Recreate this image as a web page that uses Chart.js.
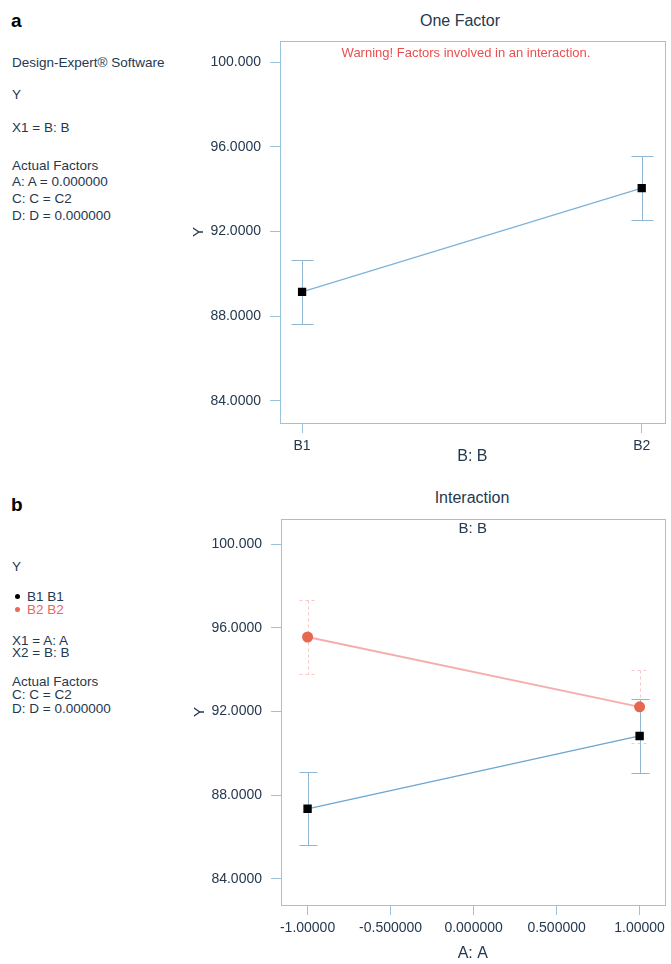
<!DOCTYPE html>
<html>
<head>
<meta charset="utf-8">
<script src="https://cdn.jsdelivr.net/npm/chart.js@4.4.1/dist/chart.umd.min.js"></script>
<style>
  body { margin: 0; background: #fff; }
  #page { position: relative; width: 671px; height: 964px; overflow: hidden; font-family: "Liberation Sans", Arial, sans-serif; color: #24384f; }
  .t { position: absolute; white-space: nowrap; font-size: 13.5px; line-height: 14px; }
  .panel { position: absolute; font-weight: bold; font-size: 19px; color: #000; }
  .ttl { position: absolute; font-size: 16px; line-height: 18px; text-align: center; }
  .dot { display: inline-block; width: 5px; height: 5px; border-radius: 3px; margin-right: 7px; vertical-align: 2px; }
  canvas { position: absolute; left: 0; }
</style>
</head>
<body>
<div id="page">
  <div class="panel" style="left:11px; top:10px;">a</div>
  <div class="t" style="left:12px; top:56px;">Design-Expert® Software</div>
  <div class="t" style="left:12px; top:88px;">Y</div>
  <div class="t" style="left:12px; top:121px;">X1 = B: B</div>
  <div class="t" style="left:12px; top:159px;">Actual Factors</div>
  <div class="t" style="left:12px; top:175px;">A: A = 0.000000</div>
  <div class="t" style="left:12px; top:192px;">C: C = C2</div>
  <div class="t" style="left:12px; top:209px;">D: D = 0.000000</div>

  <div class="panel" style="left:11px; top:494px;">b</div>
  <div class="t" style="left:12px; top:560px;">Y</div>
  <div class="t" style="left:15px; top:590px;"><span class="dot" style="background:#000;"></span>B1 B1</div>
  <div class="t" style="left:15px; top:603px; color:#e8675a;"><span class="dot" style="background:#e8675a;"></span>B2 B2</div>
  <div class="t" style="left:12px; top:634px;">X1 = A: A</div>
  <div class="t" style="left:12px; top:646px;">X2 = B: B</div>
  <div class="t" style="left:12px; top:675px;">Actual Factors</div>
  <div class="t" style="left:12px; top:688px;">C: C = C2</div>
  <div class="t" style="left:12px; top:702px;">D: D = 0.000000</div>

  <div class="ttl" style="left:380px; width:160px; top:12px;">One Factor</div>
  <div class="ttl" style="left:392px; width:160px; top:489px;">Interaction</div>

  <canvas id="chartA" width="671" height="480" style="top:0px;"></canvas>
  <canvas id="chartB" width="671" height="484" style="top:480px;"></canvas>
</div>

<script>
// values
const levelsB = ["B1", "B2"];
const levelsBX = [0, 1];
const oneFactorY = [89.15, 94.05];
const oneFactorErr = [1.52, 1.52];

const levelsA = [-1, 1];
const interB1 = [87.35, 90.83];
const interB2 = [95.56, 92.22];
const interB1Err = [1.75, 1.75];
const interB2Err = [1.75, 1.75];

const yTickVals = [84, 88, 92, 96, 100];
const yTickLabels = ["84.0000", "88.0000", "92.0000", "96.0000", "100.000"];
const aTickVals = [-1, -0.5, 0, 0.5, 1];
const aTickLabels = ["-1.00000", "-0.500000", "0.000000", "0.500000", "1.00000"];

const axisColor = "#9cc3de";
const textColor = "#24384f";
const fontFamily = "'Liberation Sans', Arial, sans-serif";

const plotFrame = {
  id: "plotFrame",
  beforeDatasetsDraw(chart) {
    const { ctx, chartArea: a } = chart;
    ctx.save();
    ctx.strokeStyle = axisColor;
    ctx.lineWidth = 1;
    ctx.strokeRect(Math.round(a.left) + 0.5, Math.round(a.top) + 0.5, Math.round(a.width), Math.round(a.height));
    ctx.restore();
  }
};

const errorBars = {
  id: "errorBars",
  beforeDatasetsDraw(chart) {
    const { ctx, scales: { x, y } } = chart;
    chart.data.datasets.forEach(ds => {
      if (!ds.errors) return;
      ctx.save();
      ctx.strokeStyle = ds.errorColor;
      ctx.lineWidth = 1;
      ctx.setLineDash(ds.errorDash || []);
      ds.data.forEach((p, i) => {
        const px = Math.round(x.getPixelForValue(p.x)) + 0.5;
        const top = Math.round(y.getPixelForValue(p.y + ds.errors[i])) + 0.5;
        const bot = Math.round(y.getPixelForValue(p.y - ds.errors[i])) + 0.5;
        const w = ds.capWidth / 2;
        ctx.beginPath();
        ctx.moveTo(px, top); ctx.lineTo(px, bot);
        ctx.moveTo(px - w, top); ctx.lineTo(px + w, top);
        ctx.moveTo(px - w, bot); ctx.lineTo(px + w, bot);
        ctx.stroke();
      });
      ctx.restore();
    });
  }
};

const warning = {
  id: "warning",
  afterDraw(chart) {
    const { ctx, chartArea: a } = chart;
    ctx.save();
    ctx.fillStyle = "#e8504f";
    ctx.font = "13px " + fontFamily;
    ctx.textAlign = "center";
    ctx.textBaseline = "middle";
    ctx.fillText("Warning! Factors involved in an interaction.", 466, a.top + 12);
    ctx.restore();
  }
};

const subTitle = {
  id: "subTitle",
  afterDraw(chart) {
    const { ctx, chartArea: a } = chart;
    ctx.save();
    ctx.fillStyle = textColor;
    ctx.font = "15px " + fontFamily;
    ctx.textAlign = "center";
    ctx.textBaseline = "middle";
    ctx.fillText("B: B", (a.left + a.right) / 2, a.top + 10);
    ctx.restore();
  }
};

function yScale(min, max, padLeft) {
  return {
    type: "linear",
    min: min,
    max: max,
    afterFit: s => { s.width = padLeft; },
    afterBuildTicks: s => { s.ticks = yTickVals.map(v => ({ value: v })); },
    ticks: {
      color: textColor,
      padding: 9,
      font: { size: 14, family: fontFamily },
      callback: (v, i) => yTickLabels[i]
    },
    grid: { drawOnChartArea: false, drawTicks: true, tickLength: 10, color: axisColor },
    border: { display: false },
    title: { display: true, text: "Y", color: textColor, padding: { top: 2 }, font: { size: 15, family: fontFamily } }
  };
}

function xScale(min, max, height, vals, labels, title, titlePad) {
  return {
    type: "linear",
    min: min,
    max: max,
    afterFit: s => { s.height = height; },
    afterBuildTicks: s => { s.ticks = vals.map(v => ({ value: v })); },
    ticks: {
      color: textColor,
      padding: 5,
      maxRotation: 0,
      font: { size: 14, family: fontFamily },
      callback: (v, i) => labels[i]
    },
    grid: { drawOnChartArea: false, drawTicks: true, tickLength: 10, color: axisColor },
    border: { display: false },
    title: { display: true, text: title, color: textColor, padding: { bottom: titlePad }, font: { size: 16, family: fontFamily } }
  };
}

new Chart(document.getElementById("chartA").getContext("2d"), {
  type: "line",
  data: {
    datasets: [{
      data: levelsBX.map((x, i) => ({ x: x, y: oneFactorY[i] })),
      borderColor: "#7db3d8",
      borderWidth: 1.2,
      pointStyle: "rect",
      pointRadius: 5,
      pointBackgroundColor: "#000",
      pointBorderColor: "#000",
      errors: oneFactorErr,
      errorColor: "#8fb6d2",
      capWidth: 22
    }]
  },
  options: {
    responsive: false,
    animation: false,
    devicePixelRatio: 1,
    layout: { padding: { left: 188, right: 6, top: 41, bottom: 0 } },
    plugins: { legend: { display: false }, tooltip: { enabled: false } },
    scales: {
      x: xScale(-0.065, 1.068, 57, levelsBX, levelsB, "B: B", 14),
      y: yScale(82.96, 101.0, 92)
    }
  },
  plugins: [plotFrame, errorBars, warning]
});

new Chart(document.getElementById("chartB").getContext("2d"), {
  type: "line",
  data: {
    datasets: [{
      data: levelsA.map((x, i) => ({ x: x, y: interB2[i] })),
      borderColor: "rgba(240,140,140,0.7)",
      borderWidth: 2,
      pointStyle: "circle",
      pointRadius: 4.5,
      pointBackgroundColor: "#e5684f",
      pointBorderColor: "#e5684f",
      errors: interB2Err,
      errorColor: "rgba(240,130,130,0.45)",
      errorDash: [3, 3],
      capWidth: 18
    }, {
      data: levelsA.map((x, i) => ({ x: x, y: interB1[i] })),
      borderColor: "#6ba6d0",
      borderWidth: 1.3,
      pointStyle: "rect",
      pointRadius: 5,
      pointBackgroundColor: "#000",
      pointBorderColor: "#000",
      errors: interB1Err,
      errorColor: "#8fb6d2",
      capWidth: 18
    }]
  },
  options: {
    responsive: false,
    animation: false,
    devicePixelRatio: 1,
    layout: { padding: { left: 189, right: 3, top: 39, bottom: 0 } },
    plugins: { legend: { display: false }, tooltip: { enabled: false } },
    scales: {
      x: xScale(-1.16, 1.15, 59, aTickVals, aTickLabels, "A: A", 1),
      y: yScale(82.75, 101.2, 92)
    }
  },
  plugins: [plotFrame, errorBars, subTitle]
});
</script>
</body>
</html>
